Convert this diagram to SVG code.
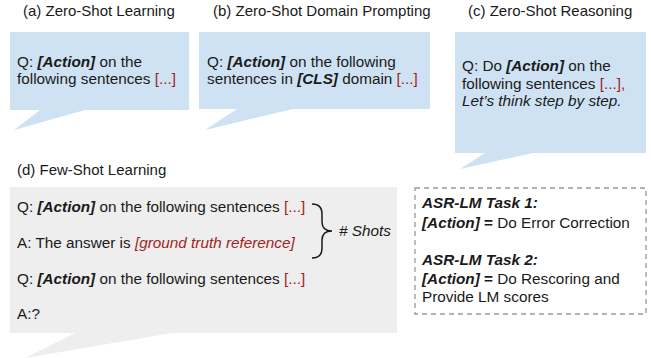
<svg xmlns="http://www.w3.org/2000/svg" width="651" height="358" viewBox="0 0 651 358">
<style>
text{font-family:"Liberation Sans",Arial,sans-serif;font-size:15.3px;fill:#1a1a1a}
.title{font-size:15px}
.blue{fill:#cfe2f3}
.gray{fill:#eeeeee}
.bi{font-weight:bold;font-style:italic}
.b{font-weight:bold}
.i{font-style:italic}
.red{fill:#a51d1d}
.dash{fill:none;stroke:#999999;stroke-width:1.3;stroke-dasharray:5 4}
.brace{fill:none;stroke:#1a1a1a;stroke-width:1.5}
</style>
<rect width="651" height="358" fill="#ffffff"/>
<g id="zero-shot-learning">
<text class="title" x="23" y="16">(a) Zero-Shot Learning</text>
<path class="blue" d="M10,32 H189 V110 H85 L14,130 L40,110 H10 Z"/>
<text x="17" y="67">Q: <tspan class="bi">[Action]</tspan> on the</text>
<text x="17" y="84">following sentences <tspan class="red">[...]</tspan></text>
</g>
<g id="zero-shot-domain-prompting">
<text class="title" x="213" y="16">(b) Zero-Shot Domain Prompting</text>
<path class="blue" d="M199,32 H430 V109 H293 L205,130 L237,109 H199 Z"/>
<text x="207" y="67">Q: <tspan class="bi">[Action]</tspan> on the following</text>
<text x="207" y="84">sentences in <tspan class="bi">[CLS]</tspan> domain <tspan class="red">[...]</tspan></text>
</g>
<g id="zero-shot-reasoning">
<text class="title" x="468" y="16">(c) Zero-Shot Reasoning</text>
<path class="blue" d="M455,32 H646 V153 H533 L460,169 L485,153 H455 Z"/>
<text x="462" y="71">Q: Do <tspan class="bi">[Action]</tspan> on the</text>
<text x="462" y="89">following sentences <tspan class="red">[...],</tspan></text>
<text x="462" y="106" class="i">Let’s think step by step.</text>
</g>
<g id="few-shot-learning">
<text class="title" x="17" y="175">(d) Few-Shot Learning</text>
<path class="gray" d="M10,187 H397 V333 H172 L25,358 L75,333 H10 Z"/>
<text x="17" y="212">Q: <tspan class="bi">[Action]</tspan> on the following sentences <tspan class="red">[...]</tspan></text>
<text x="17" y="248">A: The answer is <tspan class="red i">[ground truth reference]</tspan></text>
<text x="17" y="284">Q: <tspan class="bi">[Action]</tspan> on the following sentences <tspan class="red">[...]</tspan></text>
<text x="17" y="319">A:?</text>
</g>
<g id="connectors">
<path class="brace" d="M312,204 Q322,204 322,214 V222 Q322,231 332,231 Q322,231 322,240 V248 Q322,258 312,258"/>
<text x="339" y="236" class="i"># Shots</text>
</g>
<g id="asr-lm-tasks">
<rect class="dash" x="415" y="188" width="231" height="126"/>
<text x="422" y="208" class="bi">ASR-LM Task 1:</text>
<text x="422" y="228"><tspan class="bi">[Action]</tspan><tspan class="b"> =</tspan> Do Error Correction</text>
<text x="422" y="265" class="bi">ASR-LM Task 2:</text>
<text x="422" y="284"><tspan class="bi">[Action]</tspan><tspan class="b"> =</tspan> Do Rescoring and</text>
<text x="422" y="302">Provide LM scores</text>
</g>
</svg>
